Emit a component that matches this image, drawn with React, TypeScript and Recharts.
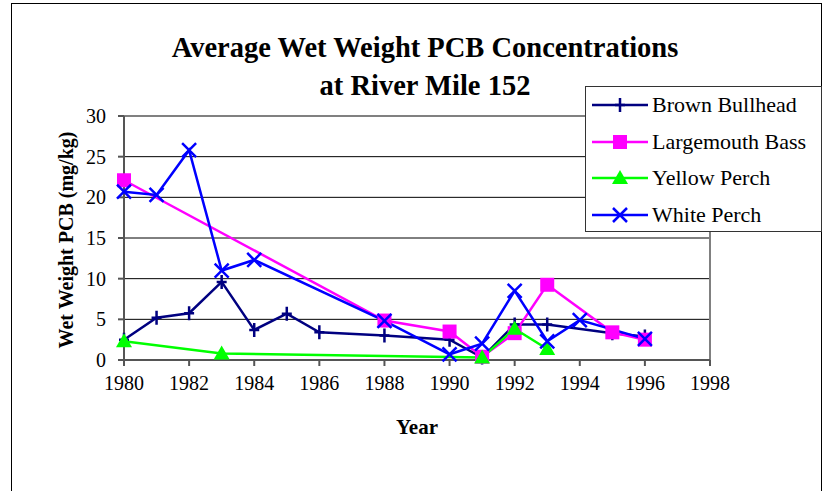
import { LineChart, Line, XAxis, YAxis, CartesianGrid, ReferenceLine } from 'recharts';

const years = [1980, 1982, 1984, 1986, 1988, 1990, 1992, 1994, 1996, 1998];
const yTicks = [0, 5, 10, 15, 20, 25, 30];

const brownBullhead = [
  { year: 1980, value: 2.5 },
  { year: 1981, value: 5.2 },
  { year: 1982, value: 5.75 },
  { year: 1983, value: 9.6 },
  { year: 1984, value: 3.7 },
  { year: 1985, value: 5.7 },
  { year: 1986, value: 3.4 },
  { year: 1988, value: 3.0 },
  { year: 1990, value: 2.5 },
  { year: 1991, value: 0.3 },
  { year: 1992, value: 4.35 },
  { year: 1993, value: 4.35 },
  { year: 1995, value: 3.3 },
  { year: 1996, value: 2.9 },
];

const largemouthBass = [
  { year: 1980, value: 22.1 },
  { year: 1988, value: 4.85 },
  { year: 1990, value: 3.5 },
  { year: 1991, value: 0.4 },
  { year: 1992, value: 3.3 },
  { year: 1993, value: 9.25 },
  { year: 1995, value: 3.4 },
  { year: 1996, value: 2.5 },
];

const yellowPerch = [
  { year: 1980, value: 2.3 },
  { year: 1983, value: 0.8 },
  { year: 1991, value: 0.3 },
  { year: 1992, value: 3.85 },
  { year: 1993, value: 1.35 },
];

const whitePerch = [
  { year: 1980, value: 20.7 },
  { year: 1981, value: 20.3 },
  { year: 1982, value: 25.8 },
  { year: 1983, value: 11.0 },
  { year: 1984, value: 12.3 },
  { year: 1988, value: 4.8 },
  { year: 1990, value: 0.7 },
  { year: 1991, value: 2.0 },
  { year: 1992, value: 8.5 },
  { year: 1993, value: 2.3 },
  { year: 1994, value: 4.9 },
  { year: 1996, value: 2.6 },
];

const NAVY = '#000080';
const MAGENTA = '#FF00FF';
const GREEN = '#00FF00';
const BLUE = '#0000FF';
const serif = '"Liberation Serif", "Times New Roman", serif';

type Shape = 'plus' | 'square' | 'triangle' | 'cross';

const marker = (shape: Shape, color: string, cx: number, cy: number, key?: any) => {
  if (cx == null || cy == null) return <g key={key} />;
  if (shape === 'plus')
    return (
      <path key={key} d={`M${cx - 5},${cy}H${cx + 5}M${cx},${cy - 7}V${cy + 7}`} stroke={color} strokeWidth={2.5} fill="none" />
    );
  if (shape === 'square')
    return <rect key={key} x={cx - 7} y={cy - 7} width={14} height={14} fill={color} />;
  if (shape === 'triangle')
    return <path key={key} d={`M${cx},${cy - 8}L${cx + 8},${cy + 6}L${cx - 8},${cy + 6}Z`} fill={color} />;
  return (
    <path key={key} d={`M${cx - 7},${cy - 7}L${cx + 7},${cy + 7}M${cx + 7},${cy - 7}L${cx - 7},${cy + 7}`} stroke={color} strokeWidth={2.5} fill="none" />
  );
};

const series: { name: string; data: { year: number; value: number }[]; color: string; shape: Shape }[] = [
  { name: 'Brown Bullhead', data: brownBullhead, color: NAVY, shape: 'plus' },
  { name: 'Largemouth Bass', data: largemouthBass, color: MAGENTA, shape: 'square' },
  { name: 'Yellow Perch', data: yellowPerch, color: GREEN, shape: 'triangle' },
  { name: 'White Perch', data: whitePerch, color: BLUE, shape: 'cross' },
];

export default function App() {
  return (
    <div style={{ position: 'absolute', left: 0, top: 0, width: 824, height: 491, overflow: 'hidden', background: '#fff', fontFamily: serif }}>
      <div style={{ position: 'absolute', left: 11, top: 3, width: 811, height: 520, border: '1.5px solid #000', boxSizing: 'border-box' }} />
      <LineChart width={824} height={491} data={brownBullhead} margin={{ top: 116, right: 114, bottom: 91, left: 58 }} style={{ position: 'absolute', left: 0, top: 0 }}>
        <CartesianGrid vertical={false} stroke="#000" strokeWidth={1} />
        <XAxis
          type="number"
          dataKey="year"
          domain={[1980, 1998]}
          ticks={years}
          height={40}
          stroke="#555"
          strokeWidth={2}
          tickSize={6}
          tickMargin={10}
          tick={{ fill: '#000', fontSize: 20, fontFamily: serif }}
          allowDuplicatedCategory={false}
        />
        <YAxis
          type="number"
          domain={[0, 30]}
          ticks={yTicks}
          width={66}
          stroke="#555"
          strokeWidth={2}
          tickSize={6}
          tickMargin={12}
          tick={{ fill: '#000', fontSize: 20, fontFamily: serif }}
        />
        <ReferenceLine y={30} stroke="#808080" strokeWidth={2} />
        <ReferenceLine x={1998} stroke="#808080" strokeWidth={2} />
        {series.map((s) => (
          <Line
            key={s.name}
            data={s.data}
            dataKey="value"
            name={s.name}
            stroke={s.color}
            strokeWidth={2.5}
            isAnimationActive={false}
            dot={(p: any) => marker(s.shape, s.color, p.cx, p.cy, p.key)}
            activeDot={false}
          />
        ))}
      </LineChart>

      <div style={{ position: 'absolute', left: 0, width: 850, top: 29, textAlign: 'center', fontWeight: 'bold', fontSize: 28.5, lineHeight: '38px' }}>
        Average Wet Weight PCB Concentrations
        <br />
        at River Mile 152
      </div>

      <div style={{ position: 'absolute', left: 66, top: 240, transform: 'translate(-50%, -50%) rotate(-90deg)', whiteSpace: 'nowrap', fontWeight: 'bold', fontSize: 20 }}>
        Wet Weight PCB (mg/kg)
      </div>
      <div style={{ position: 'absolute', left: 417, top: 427, transform: 'translate(-50%, -50%)', fontWeight: 'bold', fontSize: 21 }}>
        Year
      </div>

      <div style={{ position: 'absolute', left: 585, top: 86, width: 237, height: 146, border: '1.5px solid #333', boxSizing: 'border-box', background: '#fff' }}>
        {series.map((s, i) => (
          <div key={s.name} style={{ position: 'absolute', left: 6, top: 0 + i * 36.5, height: 36, display: 'flex', alignItems: 'center' }}>
            <svg width={56} height={20} style={{ flex: 'none' }}>
              <line x1={0} y1={10} x2={56} y2={10} stroke={s.color} strokeWidth={2.5} />
              {marker(s.shape, s.color, 28, 10)}
            </svg>
            <span style={{ marginLeft: 4, fontSize: 22, whiteSpace: 'nowrap' }}>{s.name}</span>
          </div>
        ))}
      </div>
    </div>
  );
}
